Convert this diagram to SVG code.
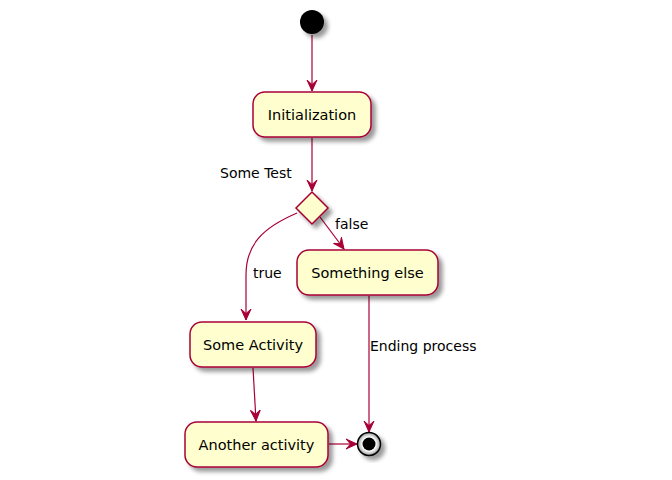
<svg xmlns="http://www.w3.org/2000/svg" width="672" height="480" viewBox="0 0 672 480">
<style>
.node{fill:#FEFECE;stroke:#A80036;stroke-width:1.5;filter:url(#sh)}
.nt{font-family:"DejaVu Sans",sans-serif;font-size:14.5px;fill:#000;text-anchor:middle;dominant-baseline:central}
.lt{font-family:"DejaVu Sans",sans-serif;font-size:14px;fill:#000;dominant-baseline:central}
.edge{fill:none;stroke:#A80036;stroke-width:1.2;marker-end:url(#ah)}
</style>
<defs>
<filter id="sh" x="-30%" y="-30%" width="160%" height="160%">
<feDropShadow dx="4" dy="4" stdDeviation="2" flood-color="#000" flood-opacity="0.4"/>
</filter>
<radialGradient id="eg">
<stop offset="0.6" stop-color="#fff"/>
<stop offset="1" stop-color="#999"/>
</radialGradient>
<marker id="ah" markerUnits="userSpaceOnUse" markerWidth="14" markerHeight="12" viewBox="0 -6 14 12" refX="11" refY="0" orient="auto">
<path d="M0,-5 L11,0 L0,5 L4.5,0 Z" fill="#A80036" stroke="#A80036" stroke-width="1"/>
</marker>
</defs>
<rect width="672" height="480" fill="#fff"/>
<g id="connectors">
<path class="edge" d="M312,35 L312,91"/>
<path class="edge" d="M312,138 L312,191"/>
<path class="edge" d="M320,217 L344,249"/>
<path class="edge" d="M297,213 C262,228 246,245 246,275 L246,320"/>
<path class="edge" d="M253,368 L256,421"/>
<path class="edge" d="M329,444 L357,444"/>
<path class="edge" d="M369,296 L369,432"/>
<text class="lt" x="220" y="173">Some Test</text>
<text class="lt" x="335" y="224">false</text>
<text class="lt" x="253" y="273">true</text>
<text class="lt" x="370" y="346">Ending process</text>
</g>
<g id="start"><circle cx="312" cy="22" r="12" fill="#000" filter="url(#sh)"/></g>
<g id="init"><rect class="node" x="253" y="92" width="118" height="45" rx="12"/><text class="nt" x="312" y="115">Initialization</text></g>
<g id="decision"><polygon class="node" points="312,192 328,208 312,224 296,208"/></g>
<g id="something"><rect class="node" x="297" y="250" width="141" height="45" rx="12"/><text class="nt" x="367.5" y="273">Something else</text></g>
<g id="someact"><rect class="node" x="190" y="322" width="126" height="45" rx="12"/><text class="nt" x="253" y="345">Some Activity</text></g>
<g id="another"><rect class="node" x="185" y="422" width="143" height="45" rx="12"/><text class="nt" x="256.5" y="445">Another activity</text></g>
<g id="end"><circle cx="369" cy="444" r="11.5" fill="url(#eg)" stroke="#000" stroke-width="1.5" filter="url(#sh)"/><circle cx="369" cy="444" r="6.5" fill="#000"/></g>
</svg>
